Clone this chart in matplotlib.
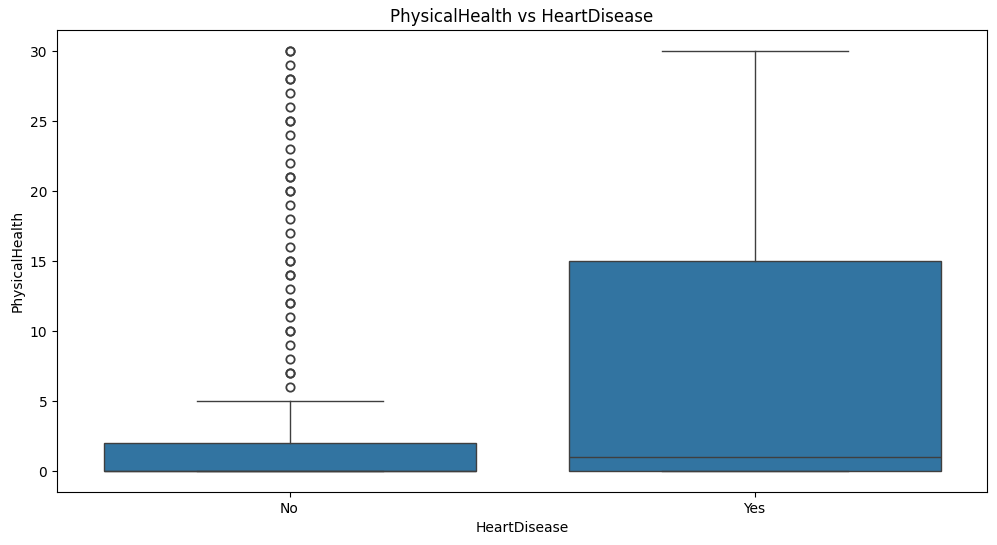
import matplotlib
matplotlib.use("Agg")
import matplotlib.pyplot as plt

# summary of PhysicalHealth per HeartDisease group
groups = ["No", "Yes"]
q1 = [0, 0]
medians = [0, 1]
q3 = [2, 15]
whisker_low = [0, 0]
whisker_high = [5, 30]
fliers_no = [6, 7, 7, 8, 9, 10, 10, 11, 12, 12, 13, 14, 14, 15, 15, 16, 17,
             18, 19, 20, 20, 21, 21, 22, 23, 24, 25, 25, 26, 27, 28, 28, 29, 30, 30]
fliers_yes = []

box_color = "#3274a1"
line_color = "#3f3f3f"

stats = []
for i, name in enumerate(groups):
    stats.append(dict(
        label=name,
        q1=q1[i],
        med=medians[i],
        q3=q3[i],
        whislo=whisker_low[i],
        whishi=whisker_high[i],
        fliers=[fliers_no, fliers_yes][i],
    ))

fig = plt.figure(figsize=(9.97, 5.45), dpi=100)
ax = fig.add_axes([0.0572, 0.0972, 0.9328, 0.8477])

ax.bxp(
    stats,
    positions=range(len(groups)),
    widths=0.8,
    patch_artist=True,
    boxprops=dict(facecolor=box_color, edgecolor=line_color, linewidth=1),
    medianprops=dict(color=line_color, linewidth=1),
    whiskerprops=dict(color=line_color, linewidth=1),
    capprops=dict(color=line_color, linewidth=1),
    capwidths=0.4,
    flierprops=dict(marker="o", markerfacecolor="none", markeredgecolor=line_color,
                    markersize=6, markeredgewidth=1.3),
)

ax.set_xlim(-0.5, 1.5)
ax.set_ylim(-1.5, 31.5)
ax.set_yticks(range(0, 31, 5))
ax.set_xticks(range(len(groups)))
ax.set_xticklabels(groups)
ax.set_xlabel("HeartDisease")
ax.set_ylabel("PhysicalHealth")
ax.set_title("PhysicalHealth vs HeartDisease")

plt.savefig("out.png")
plt.close()
